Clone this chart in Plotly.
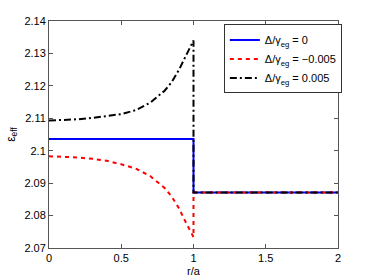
import plotly.graph_objects as go

# data
r_in = [0, 0.1, 0.2, 0.3, 0.4, 0.5, 0.6, 0.7, 0.8, 0.85, 0.9, 0.95, 1.0]
eps_pos = [2.1093, 2.1094, 2.1097, 2.1101, 2.1106, 2.1113, 2.1125, 2.1148, 2.1185, 2.1212, 2.1250, 2.1295, 2.1340]
eps_neg = [2.0983, 2.0982, 2.0979, 2.0975, 2.0969, 2.0958, 2.0945, 2.0922, 2.0885, 2.0858, 2.0822, 2.0776, 2.0734]
eps_zero_in = 2.1036
eps_out = 2.0871
r_out = [1.0, 2.0]

names = ["Δ/γ<sub>eg</sub> = 0", "Δ/γ<sub>eg</sub> = −0.005", "Δ/γ<sub>eg</sub> = 0.005"]
yticks = [2.07, 2.08, 2.09, 2.1, 2.11, 2.12, 2.13, 2.14]
yticktext = ["2.07", "2.08", "2.09", "2.1", "2.11", "2.12", "2.13", "2.14"]
xticks = [0, 0.5, 1, 1.5, 2]
xticktext = ["0", "0.5", "1", "1.5", "2"]

fig = go.Figure()
x0 = r_in + r_out
fig.add_trace(go.Scatter(x=[0, 1.0] + r_out, y=[eps_zero_in, eps_zero_in, eps_out, eps_out],
                         mode="lines", name=names[0],
                         line=dict(color="#0000ff", width=2)))
fig.add_trace(go.Scatter(x=x0, y=eps_neg + [eps_out, eps_out],
                         mode="lines", name=names[1],
                         line=dict(color="#ff0000", width=2, dash="4px,4px")))
fig.add_trace(go.Scatter(x=x0, y=eps_pos + [eps_out, eps_out],
                         mode="lines", name=names[2],
                         line=dict(color="#000000", width=2, dash="7px,3px,2px,3px")))

axis_common = dict(showgrid=False, zeroline=False, showline=True, linecolor="#555555",
                   linewidth=1, mirror="allticks", ticks="inside", ticklen=4,
                   tickcolor="#555555", tickfont=dict(size=11, color="black"),
                   automargin=False)
fig.update_xaxes(range=[0, 2], tickvals=xticks, ticktext=xticktext,
                 title=dict(text="r/a", font=dict(size=11), standoff=4), **axis_common)
fig.update_yaxes(range=[2.07, 2.14], tickvals=yticks, ticktext=yticktext,
                 title=dict(text="ε<sub>eff</sub>", font=dict(size=12), standoff=6), **axis_common)

fig.update_layout(
    width=374, height=280,
    margin=dict(l=49, r=36, t=21, b=32),
    paper_bgcolor="white", plot_bgcolor="white",
    font=dict(family="Liberation Sans, Arial, sans-serif", size=11, color="black"),
    legend=dict(x=0.605, y=0.985, xanchor="left", yanchor="top",
                bgcolor="white", bordercolor="#333333", borderwidth=1,
                font=dict(size=11), itemwidth=30, tracegroupgap=0),
    showlegend=True,
)

fig.write_html("out.html", config={"displayModeBar": False},
               post_script="document.body.style.margin='0';document.body.style.overflow='hidden';")
